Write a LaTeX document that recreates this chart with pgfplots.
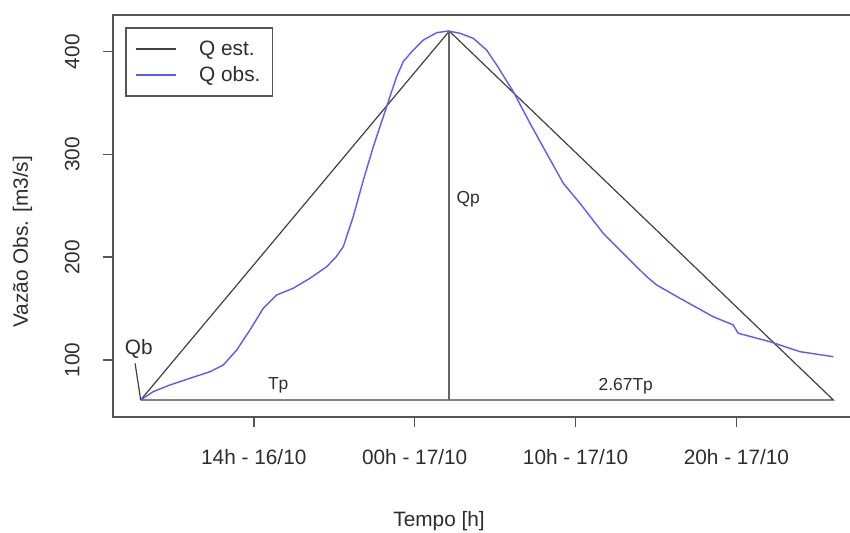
\documentclass[border=0pt]{standalone}
\usepackage{pgfplots}
\pgfplotsset{compat=1.18}
\usepackage{fontspec}
\setmainfont{Liberation Sans}
\definecolor{qobs}{RGB}{90,90,255}
\definecolor{txt}{RGB}{45,45,45}
\definecolor{frame}{RGB}{85,85,85}
\begin{document}
\begin{tikzpicture}
\begin{axis}[
  at={(0,0)}, anchor=south west,
  scale only axis, width=373.65pt, height=200.85pt,
  xmin=-8.77, xmax=37.68, ymin=44.83, ymax=435.7,
  axis line style={frame, line width=0.9pt},
  xtick={0,10,20,30},
  xticklabels={14h - 16/10, 00h - 17/10, 10h - 17/10, 20h - 17/10},
  ytick={100,200,300,400},
  tick align=outside, major tick length=5pt,
  xtick pos=bottom, ytick pos=left,
  tick style={frame, line width=0.8pt},
  ticklabel style={font=\fontsize{10.4}{12}\selectfont, text=txt},
  /pgf/number format/assume math mode=true,
  xticklabel shift=8pt,
  yticklabel style={rotate=90, anchor=south},
  yticklabel shift=8pt,
  clip=false,
  legend style={at={(0.0165,0.9694)}, anchor=north west, draw=frame,
    line width=0.8pt, font=\fontsize{10.4}{12}\selectfont, text=txt,
    inner xsep=4.5pt, inner ysep=4pt, row sep=0pt,
    nodes={inner sep=1.5pt, text height=8pt, text depth=2pt},
    /tikz/every odd column/.append style={column sep=10pt}},
  legend cell align=left,
  legend image code/.code={\draw[#1] (0pt,0pt) -- (20pt,0pt);},
]
% hidrograma triangular (Q est.)
\addplot[black!75, line width=0.6pt] coordinates {
  (-7.03,61.1) (12.15,420.0) (36.02,61.1) (-7.03,61.1)
};
\addlegendentry{Q est.}
% vazao observada
\addplot[qobs, line width=0.7pt] coordinates {
  (-7.03,61.1) (-6.25,69.2) (-5.21,75.7) (-3.97,82.2) (-2.72,88.6)
  (-1.90,95.1) (-1.06,109.7) (-0.24,129.2) (0.59,150.3) (1.42,163.2)
  (2.45,169.8) (3.49,179.5) (4.53,190.8) (5.10,200.0) (5.56,210.2)
  (6.18,239.4) (6.81,275.1) (7.43,307.6) (8.05,336.7) (8.46,356.2)
  (8.88,375.7) (9.29,390.3) (9.91,401.6) (10.53,411.3) (11.37,418.5)
  (12.09,420.1) (12.82,417.9) (13.64,413.0) (14.47,401.6) (15.10,387.0)
  (16.13,361.1) (17.17,330.3) (18.20,301.1) (19.24,271.9) (20.27,252.5)
  (21.72,223.3) (22.96,203.8) (24.42,181.1) (25.04,173.0) (26.49,160.0)
  (28.56,142.1) (29.80,134.1) (30.11,126.0) (32.08,117.8) (33.95,108.1)
  (36.02,103.2)
};
\addlegendentry{Q obs.}
% linha vertical no pico e indicador de Qb
\addplot[black!60, line width=0.9pt, forget plot] coordinates {(12.15,61.1) (12.15,420.0)};
\addplot[black!75, line width=0.6pt, forget plot] coordinates {(-7.38,96.8) (-7.03,61.1)};
\node[font=\fontsize{10.4}{12}\selectfont, text=txt] at (axis cs:-7.15,110.7) {Qb};
\node[font=\fontsize{8.7}{10}\selectfont, text=txt] at (axis cs:1.52,75.7) {Tp};
\node[font=\fontsize{8.7}{10}\selectfont, text=txt] at (axis cs:13.33,256.7) {Qp};
\node[font=\fontsize{8.7}{10}\selectfont, text=txt] at (axis cs:23.12,74.0) {2.67Tp};
\end{axis}
\node[font=\fontsize{10.4}{12}\selectfont, text=txt] at (163.2pt,-52.15pt) {Tempo [h]};
\node[font=\fontsize{10.4}{12}\selectfont, text=txt, rotate=90] at (-45.1pt,87.5pt) {Vazão Obs. [m3/s]};
\pgfresetboundingbox
\path (-56.35pt,-58.15pt) rectangle (368.65pt,208.35pt);
\end{tikzpicture}
\end{document}
